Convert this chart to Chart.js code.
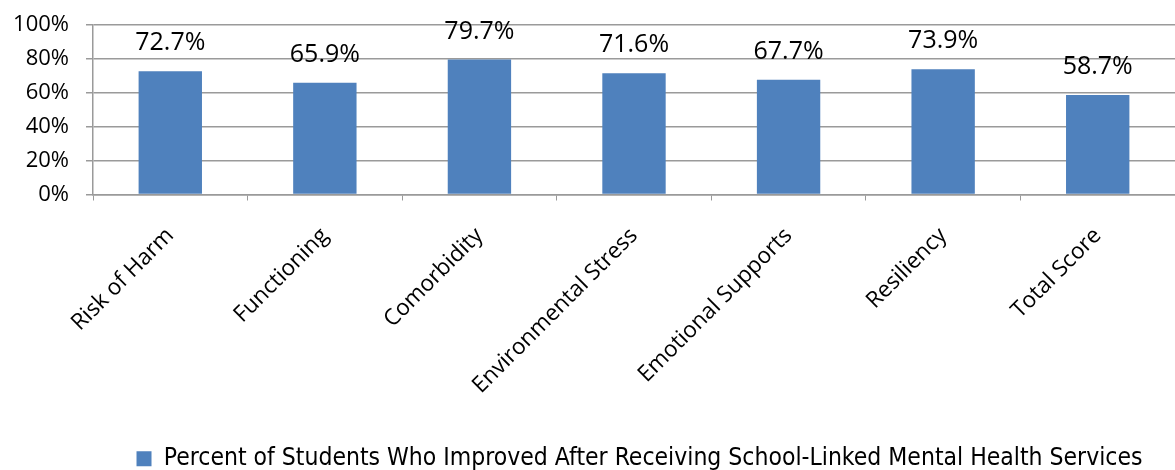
<!DOCTYPE html>
<html>
<head>
<meta charset="utf-8">
<script src="https://cdn.jsdelivr.net/npm/chart.js@4"></script>
<style>
    html, body { margin: 0; padding: 0; background: #fff; }
    #wrap { width: 1175px; height: 470px; }
</style>
</head>
<body>
<div id="wrap"><canvas id="barChart" width="1175" height="470"></canvas></div>
<script>
const categories = ['Risk of Harm', 'Functioning', 'Comorbidity', 'Environmental Stress', 'Emotional Supports', 'Resiliency', 'Total Score'];
const improvedPct = [72.7, 65.9, 79.7, 71.6, 67.7, 73.9, 58.7];
const seriesName = 'Percent of Students Who Improved After Receiving School-Linked Mental Health Services';
const yTicks = [0, 20, 40, 60, 80, 100];

const barColor = '#4F81BD';
const gridColor = '#9a9a9a';

// draws the value above each bar
const valueLabels = {
    id: 'valueLabels',
    afterDatasetsDraw(chart) {
        const ctx = chart.ctx;
        const meta = chart.getDatasetMeta(0);
        ctx.save();
        ctx.font = '25px "Open Sans"';
        ctx.fillStyle = '#000';
        ctx.textAlign = 'center';
        ctx.textBaseline = 'middle';
        meta.data.forEach((bar, i) => {
            ctx.fillText(improvedPct[i].toFixed(1) + '%', bar.x, bar.y - 28);
        });
        ctx.restore();
    }
};

// legend sits a bit right of centre and lower, like the original
const legendShift = {
    id: 'legendShift',
    afterLayout(chart) {
        const lg = chart.legend;
        lg.left += 52; lg.right += 52;
        lg.top += 11; lg.bottom += 11;
    }
};

const ctx = document.getElementById('barChart').getContext('2d');
const barChart = new Chart(ctx, {
    type: 'bar',
    data: {
        labels: categories,
        datasets: [{
            label: seriesName,
            data: improvedPct,
            backgroundColor: barColor,
            borderWidth: 0,
            categoryPercentage: 1,
            barPercentage: 0.41
        }]
    },
    options: {
        responsive: false,
        animation: false,
        layout: { padding: { top: 25, right: 0, left: 0, bottom: 0 } },
        plugins: {
            legend: {
                position: 'bottom',
                labels: {
                    boxWidth: 15,
                    boxHeight: 15,
                    color: '#000',
                    padding: 6,
                    font: { family: '"Liberation Sans Narrow", "DejaVu Sans Condensed", sans-serif', size: 24.5 }
                }
            },
            tooltip: { enabled: false }
        },
        scales: {
            x: {
                grid: {
                    drawOnChartArea: false,
                    drawTicks: true,
                    tickLength: 6,
                    color: gridColor,
                    offset: true
                },
                border: { color: gridColor, width: 1.5 },
                ticks: {
                    color: '#000',
                    maxRotation: 45,
                    minRotation: 45,
                    padding: 22,
                    font: { family: '"Open Sans"', size: 22.5 }
                },
                afterFit(scale) { scale.height = 235; }
            },
            y: {
                min: 0,
                max: 100,
                afterBuildTicks(scale) {
                    scale.ticks = yTicks.map(v => ({ value: v }));
                },
                grid: {
                    color: gridColor,
                    lineWidth: 1.5,
                    tickLength: 7
                },
                border: { color: gridColor, width: 1.5 },
                ticks: {
                    color: '#000',
                    padding: 17,
                    font: { family: '"Open Sans"', size: 22 },
                    callback: v => v + '%'
                },
                afterFit(scale) {
                    scale.width = 93;
                    scale.paddingTop = 0;
                    scale.paddingBottom = 0;
                }
            }
        }
    },
    plugins: [valueLabels, legendShift]
});
</script>
</body>
</html>
